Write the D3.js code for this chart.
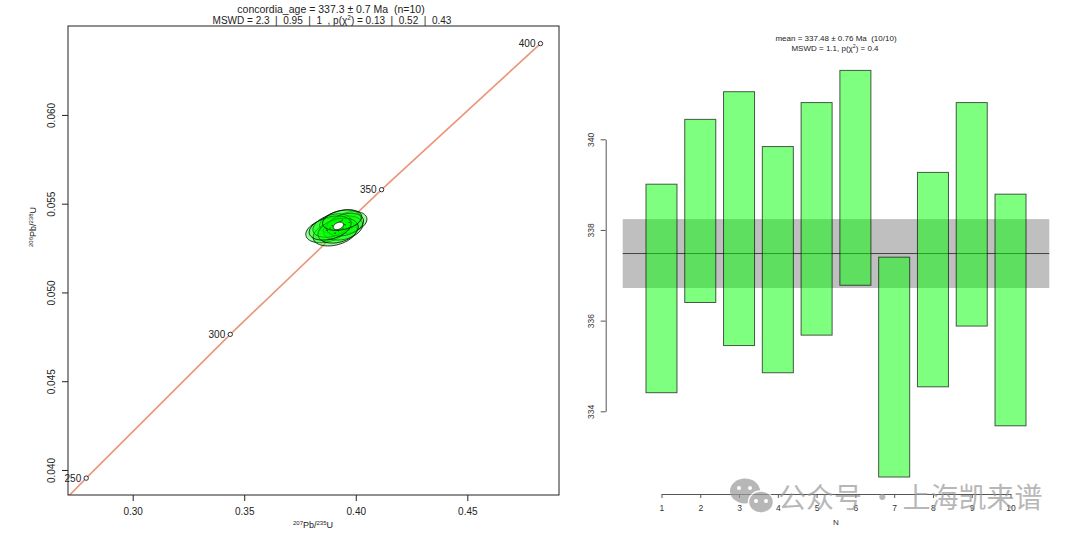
<!DOCTYPE html>
<html>
<head>
<meta charset="utf-8">
<script src="https://cdn.jsdelivr.net/npm/d3@7"></script>
<style>
    body { margin: 0; background: #fff; }
    svg { display: block; font-family: "Liberation Sans", Arial, sans-serif; }
    text { white-space: pre; }
</style>
</head>
<body>
<svg id="chart" width="1080" height="541"></svg>
<script>
/* concordia diagram (left) + weighted mean plot (right) */

// ---- data ----
// concordia age marks (Ma) and their ratios
var concAges = [240, 250, 300, 350, 400];
var concX = [0.26665, 0.27916, 0.34373, 0.41157, 0.48280]; // 207Pb/235U
var concY = [0.03793, 0.03954, 0.04764, 0.05579, 0.06402]; // 206Pb/238U
var labelAges = [250, 300, 350, 400];

// analyses (error ellipses)
var spotX = [0.3871, 0.3970, 0.3930, 0.3907, 0.3943, 0.3894, 0.3952, 0.3921, 0.3885, 0.3939];
var spotSX = [0.0095, 0.0080, 0.0092, 0.0098, 0.0088, 0.0086, 0.0083, 0.0090, 0.0094, 0.0088];
var spotY = [0.05350, 0.05394, 0.05399, 0.05334, 0.05363, 0.05377, 0.05382, 0.05348, 0.05363, 0.05408];
var spotSY = [0.00070, 0.00062, 0.00066, 0.00072, 0.00068, 0.00066, 0.00064, 0.00070, 0.00068, 0.00058];
var spotRho = [0.32, 0.30, 0.35, 0.32, 0.28, 0.35, 0.32, 0.30, 0.35, 0.32];

// concordia age ellipse
var ageEll = {x: 0.3922, sx: 0.0023, y: 0.05375, sy: 0.00021, rho: 0.35};

// weighted mean ages (Ma), lower / upper ends of each bar
var barN = [1, 2, 3, 4, 5, 6, 7, 8, 9, 10];
var barLo = [334.41, 336.40, 335.45, 334.85, 335.68, 336.78, 332.55, 334.54, 335.88, 333.68];
var barHi = [339.01, 340.44, 341.05, 339.84, 340.81, 341.52, 337.40, 339.27, 340.81, 338.79];
var meanAge = 337.48, meanErr = 0.76;

var xTicksL = [0.30, 0.35, 0.40, 0.45];
var yTicksL = [0.040, 0.045, 0.050, 0.055, 0.060];
var yTicksR = [334, 336, 338, 340];

var svg = d3.select("#chart");
svg.append("rect").attr("width", 1080).attr("height", 541).attr("fill", "#fff");

/* ================= left: concordia ================= */
var frame = {l: 68, r: 559, t: 26, b: 495};
var xL = d3.scaleLinear().domain([0.271, 0.4911]).range([frame.l, frame.r]);
var yL = d3.scaleLinear().domain([0.03859, 0.06501]).range([frame.b, frame.t]);

svg.append("clipPath").attr("id", "clipL")
    .append("rect")
    .attr("x", frame.l).attr("y", frame.t)
    .attr("width", frame.r - frame.l).attr("height", frame.b - frame.t);

var gL = svg.append("g");

// concordia line
gL.append("path")
    .attr("clip-path", "url(#clipL)")
    .attr("d", d3.line().x(d => xL(d[0])).y(d => yL(d[1]))(d3.zip(concX, concY)))
    .attr("fill", "none")
    .attr("stroke", "#e9967a")
    .attr("stroke-width", 1.6);

// error ellipses
var ellPath = function (x0, sx, y0, sy, rho) {
    let pts = [];
    let k = Math.sqrt(1 - rho * rho);
    for (let i = 0; i < 72; i++) {
        let th = i / 72 * 2 * Math.PI;
        pts.push([xL(x0 + sx * Math.cos(th)),
                  yL(y0 + sy * (rho * Math.cos(th) + k * Math.sin(th)))]);
    }
    return d3.line().curve(d3.curveLinearClosed)(pts);
};

gL.selectAll(".spot")
    .data(barN.map((d, i) => i))
    .join("path")
    .attr("class", "spot")
    .attr("d", i => ellPath(spotX[i], spotSX[i], spotY[i], spotSY[i], spotRho[i]))
    .attr("fill", "rgba(0,255,0,0.4)")
    .attr("stroke", "#000")
    .attr("stroke-width", 0.8);

gL.selectAll(".spotdot")
    .data(barN.map((d, i) => i))
    .join("circle")
    .attr("class", "spotdot")
    .attr("cx", i => xL(spotX[i])).attr("cy", i => yL(spotY[i]))
    .attr("r", 0.6).attr("fill", "#000");

gL.append("path")
    .attr("d", ellPath(ageEll.x, ageEll.sx, ageEll.y, ageEll.sy, ageEll.rho))
    .attr("fill", "#fff").attr("stroke", "#000").attr("stroke-width", 0.8);

// age markers and labels
labelAges.forEach(function (a) {
    let i = concAges.indexOf(a);
    gL.append("circle")
        .attr("cx", xL(concX[i])).attr("cy", yL(concY[i]))
        .attr("r", 2.2)
        .attr("fill", "#fff").attr("stroke", "#000").attr("stroke-width", 0.8);
    gL.append("text")
        .attr("x", xL(concX[i]) - 5).attr("y", yL(concY[i]))
        .attr("dy", "0.35em")
        .attr("text-anchor", "end")
        .attr("font-size", 10)
        .attr("fill", "#222")
        .text(a);
});

// frame
svg.append("rect")
    .attr("x", frame.l).attr("y", frame.t)
    .attr("width", frame.r - frame.l).attr("height", frame.b - frame.t)
    .attr("fill", "none").attr("stroke", "#222").attr("stroke-width", 1);

// axes
var axXL = svg.append("g")
    .attr("transform", "translate(0," + frame.b + ")")
    .call(d3.axisBottom(xL).tickValues(xTicksL).tickFormat(d3.format(".2f"))
        .tickSize(6).tickSizeOuter(0).tickPadding(7));
axXL.select(".domain").remove();

var axYL = svg.append("g")
    .attr("transform", "translate(" + frame.l + ",0)")
    .call(d3.axisLeft(yL).tickValues(yTicksL).tickFormat(d3.format(".3f"))
        .tickSize(6).tickSizeOuter(0));
axYL.select(".domain").remove();
axYL.selectAll(".tick text")
    .attr("transform", "rotate(-90)")
    .attr("x", 0).attr("y", -16.3).attr("dy", "0.35em")
    .attr("text-anchor", "middle");

[axXL, axYL].forEach(function (ax) {
    ax.selectAll(".tick line").attr("stroke", "#222");
    ax.selectAll(".tick text").attr("font-size", 10).attr("fill", "#222")
        .attr("font-family", null);
});

// axis titles with superscript isotopes
var isoLabel = function (sel, m1, el1, m2, el2) {
    sel.append("tspan").attr("font-size", 6).attr("dy", -3).text(m1);
    sel.append("tspan").attr("dy", 3).text(el1 + "/");
    sel.append("tspan").attr("font-size", 6).attr("dy", -3).text(m2);
    sel.append("tspan").attr("dy", 3).text(el2);
};
svg.append("text")
    .attr("x", 313).attr("y", 528)
    .attr("text-anchor", "middle").attr("font-size", 9).attr("fill", "#222")
    .call(isoLabel, "207", "Pb", "235", "U");
svg.append("text")
    .attr("transform", "translate(36,227) rotate(-90)")
    .attr("text-anchor", "middle").attr("font-size", 9).attr("fill", "#222")
    .call(isoLabel, "206", "Pb", "238", "U");

// title
var chiLine = function (sel, pre, post, fs) {
    sel.append("tspan").text(pre);
    sel.append("tspan").attr("font-size", fs * 0.65).attr("dy", -fs * 0.4).text("2");
    sel.append("tspan").attr("dy", fs * 0.4).text(post);
};
svg.append("text")
    .attr("x", 331).attr("y", 13)
    .attr("text-anchor", "middle").attr("font-size", 10.5).attr("fill", "#222")
    .text("concordia_age = 337.3 \u00b1 0.7 Ma  (n=10)");
svg.append("text")
    .attr("x", 332).attr("y", 23.5)
    .attr("text-anchor", "middle").attr("font-size", 10).attr("fill", "#222")
    .call(chiLine, "MSWD = 2.3  |  0.95  |  1  , p(\u03c7", ") = 0.13  |  0.52  |  0.43", 10);

/* ================= right: weighted mean ================= */
var xR = d3.scaleLinear().domain([0, 11]).range([622.7, 1049.3]);
var yR = d3.scaleLinear().domain([334, 340]).range([411.3, 139.3]);
var gR = svg.append("g");

// mean +/- error band and mean line
gR.append("rect")
    .attr("x", xR(0)).attr("width", xR(11) - xR(0))
    .attr("y", yR(meanAge + meanErr))
    .attr("height", yR(meanAge - meanErr) - yR(meanAge + meanErr))
    .attr("fill", "#bfbfbf");
gR.append("line")
    .attr("x1", xR(0)).attr("x2", xR(11))
    .attr("y1", yR(meanAge)).attr("y2", yR(meanAge))
    .attr("stroke", "#444").attr("stroke-width", 1);

gR.selectAll(".bar")
    .data(barN)
    .join("rect")
    .attr("class", "bar")
    .attr("x", d => xR(d - 0.4))
    .attr("width", xR(0.8) - xR(0))
    .attr("y", (d, i) => yR(barHi[i]))
    .attr("height", (d, i) => yR(barLo[i]) - yR(barHi[i]))
    .attr("fill", "rgba(0,255,0,0.5)")
    .attr("stroke", "rgba(0,0,0,0.65)")
    .attr("stroke-width", 1);

var axYR = svg.append("g")
    .attr("transform", "translate(605.7,0)")
    .call(d3.axisLeft(yR).tickValues(yTicksR).tickFormat(d3.format("d"))
        .tickSize(5).tickSizeOuter(0));
axYR.selectAll(".tick text")
    .attr("transform", "rotate(-90)")
    .attr("x", 0).attr("y", -14.7).attr("dy", "0.35em")
    .attr("text-anchor", "middle");

var xRaxis = d3.scaleLinear().domain([1, 10]).range([xR(1), xR(10)]);
var axXR = svg.append("g")
    .attr("transform", "translate(0,494)")
    .call(d3.axisBottom(xRaxis).tickValues(barN).tickFormat(d3.format("d"))
        .tickSize(4).tickSizeOuter(0).tickPadding(7));

[axYR, axXR].forEach(function (ax) {
    ax.select(".domain").attr("stroke", "#555");
    ax.selectAll(".tick line").attr("stroke", "#555");
    ax.selectAll(".tick text").attr("font-size", 8.5).attr("fill", "#333")
        .attr("font-family", null);
});

svg.append("text")
    .attr("x", xR(5.5)).attr("y", 525)
    .attr("text-anchor", "middle").attr("font-size", 8).attr("fill", "#333")
    .text("N");

svg.append("text")
    .attr("x", 836).attr("y", 41)
    .attr("text-anchor", "middle").attr("font-size", 8).attr("fill", "#222")
    .text("mean = 337.48 \u00b1 0.76 Ma  (10/10)");
svg.append("text")
    .attr("x", 835).attr("y", 51)
    .attr("text-anchor", "middle").attr("font-size", 8).attr("fill", "#222")
    .call(chiLine, "MSWD = 1.1, p(\u03c7", ") = 0.4", 8);

/* ================= watermark ================= */
var wm = svg.append("g").attr("opacity", 0.7);
wm.append("ellipse").attr("cx", 745).attr("cy", 491).attr("rx", 15).attr("ry", 12.5).attr("fill", "#9a9a9a");
wm.append("ellipse").attr("cx", 761).attr("cy", 502).attr("rx", 12.5).attr("ry", 11)
    .attr("fill", "#9a9a9a").attr("stroke", "#fff").attr("stroke-width", 1.5);
[[739, 488], [750, 488], [756, 501], [766, 501]].forEach(function (p) {
    wm.append("circle").attr("cx", p[0]).attr("cy", p[1]).attr("r", 2).attr("fill", "#fff");
});
wm.append("text")
    .attr("x", 778).attr("y", 508)
    .attr("font-family", "'Noto Sans CJK SC', sans-serif")
    .attr("font-size", 28).attr("fill", "#9a9a9a")
    .text("公众号 · 上海凯来谱");
</script>
</body>
</html>
